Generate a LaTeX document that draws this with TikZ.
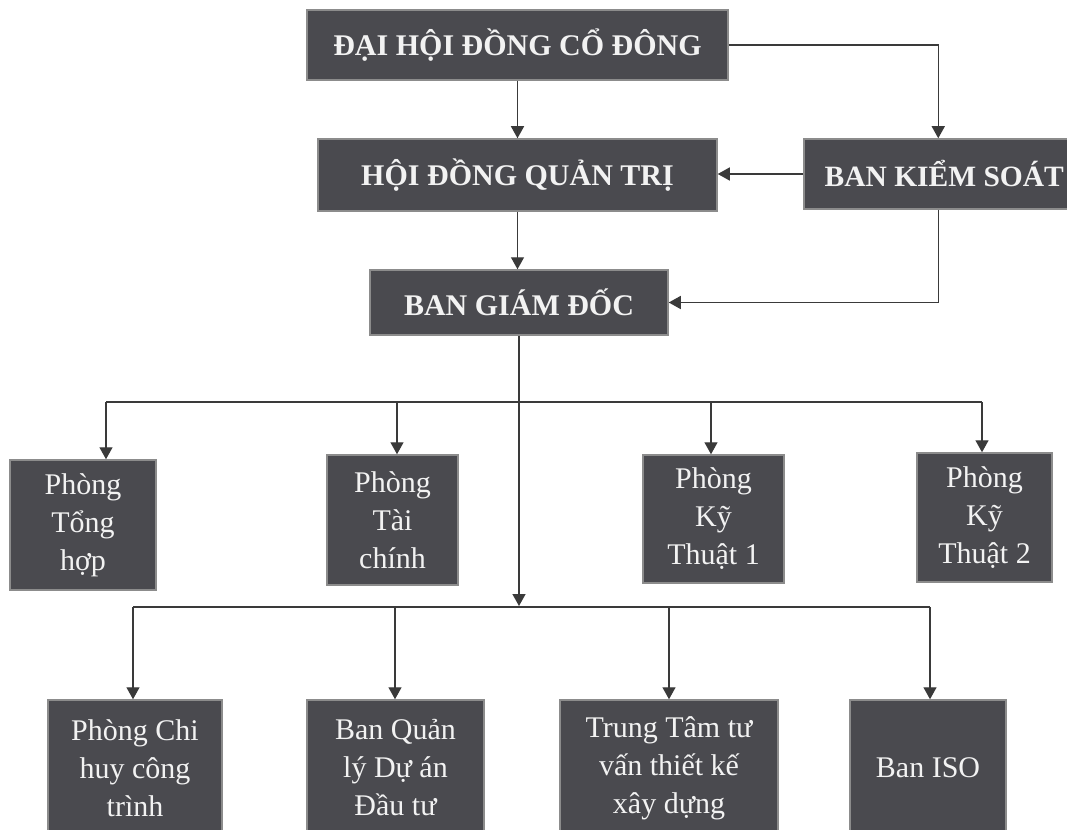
\documentclass[tikz,border=0pt]{standalone}
\usepackage{fontspec}
\setmainfont{Liberation Serif}
\usetikzlibrary{arrows.meta}
\definecolor{boxgray}{HTML}{4A4A4F}
\definecolor{boxedge}{HTML}{8C8C8C}
\definecolor{linegray}{HTML}{3A3A3A}
\tikzset{
  unit/.style={draw=boxedge, fill=boxgray, line width=1.5pt, text=white!90!gray, inner sep=0pt, align=center},
  topunit/.style={unit, font=\fontsize{30}{34}\selectfont\bfseries},
  deptunit/.style={unit, font=\fontsize{30}{38}\selectfont},
  link/.style={draw=linegray, line width=1.4pt},
  arrowlink/.style={link, -{Triangle[width=13pt,length=12pt]}}
}
\begin{document}
\begin{tikzpicture}[x=1pt,y=-1pt]
\useasboundingbox[fill=white] (0,0) rectangle (1067,829);
% management
\node[topunit, minimum width=421, minimum height=70] (dhdcd) at (517.5,45) {ĐẠI HỘI ĐỒNG CỔ ĐÔNG};
\node[topunit, minimum width=399, minimum height=72] (hdqt) at (517.5,175) {HỘI ĐỒNG QUẢN TRỊ};
\node[topunit, font=\fontsize{29.5}{34}\selectfont\bfseries, minimum width=281, minimum height=70, anchor=west] (bks) at (803,174) {BAN KIỂM SOÁT};
\node[topunit, minimum width=298, minimum height=65] (bgd) at (519,302.5) {BAN GIÁM ĐỐC};
% departments
\node[deptunit, minimum width=146, minimum height=130] (tonghop) at (83,525) {Phòng\\Tổng\\hợp};
\node[deptunit, minimum width=131, minimum height=130] (taichinh) at (392.5,520) {Phòng\\Tài\\chính};
\node[deptunit, minimum width=141, minimum height=128] (kt1) at (713.5,519) {Phòng\\Kỹ\\Thuật 1};
\node[deptunit, minimum width=135, minimum height=129] (kt2) at (984.5,517.5) {Phòng\\Kỹ\\Thuật 2};
\node[deptunit, minimum width=174, minimum height=136] (chihuy) at (135,768) {Phòng Chi\\huy công\\trình};
\node[deptunit, minimum width=177, minimum height=136] (banql) at (395.5,768) {Ban Quản\\lý Dự án\\Đầu tư};
\node[deptunit, minimum width=218, minimum height=136] (trungtam) at (669,768) {Trung Tâm tư\\vấn thiết kế\\xây dựng};
\node[deptunit, minimum width=156, minimum height=136] (baniso) at (928,768) {Ban ISO};
% connectors
\draw[arrowlink] (dhdcd.south) -- (dhdcd.south |- hdqt.north);
\draw[arrowlink] (dhdcd.east) -| ([xshift=-6pt]bks.north);
\draw[arrowlink] (bks.west) -- (bks.west -| hdqt.east);
\draw[arrowlink] (hdqt.south) -- (hdqt.south |- bgd.north);
\draw[arrowlink] ([xshift=-6pt]bks.south) |- (bgd.east);
\coordinate (lowjoin) at (522,606);
\draw[arrowlink] (bgd.south) -- (bgd.south |- lowjoin);
% upper row
\coordinate (tap1) at (106,402);
\coordinate (tap2) at (397,402);
\coordinate (tap3) at (711,402);
\coordinate (tap4) at (982,402);
\draw[link] (tap1) -- (tap4);
\foreach \i/\d in {1/tonghop, 2/taichinh, 3/kt1, 4/kt2}
  \draw[arrowlink] (tap\i) -- (tap\i |- \d.north);
% lower row
\coordinate (drop1) at (133,607);
\coordinate (drop2) at (395,607);
\coordinate (drop3) at (669,607);
\coordinate (drop4) at (930,607);
\draw[link] (drop1) -- (drop4);
\foreach \i/\d in {1/chihuy, 2/banql, 3/trungtam, 4/baniso}
  \draw[arrowlink] (drop\i) -- (drop\i |- \d.north);
\end{tikzpicture}
\end{document}
